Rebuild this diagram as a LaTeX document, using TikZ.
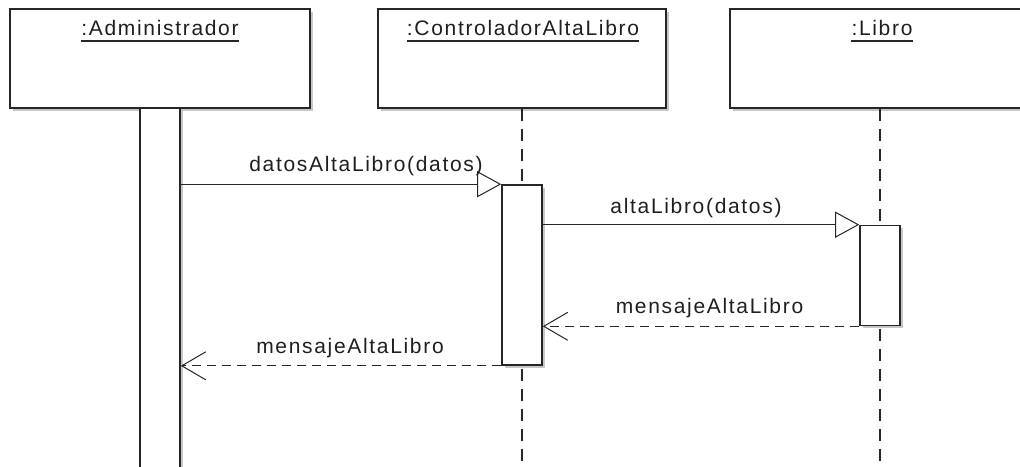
\documentclass[tikz,border=0pt]{standalone}
\usepackage{fontspec}
\setmainfont{Liberation Sans}[LetterSpace=8]
\usetikzlibrary{arrows.meta,shadows}
\begin{document}
\begin{tikzpicture}[x=1pt,y=-1pt,
  objbox/.style={draw=black!85,line width=1.6pt,fill=white,rectangle,inner sep=0pt,
    drop shadow={shadow xshift=2.5pt,shadow yshift=-2.5pt,fill=black!22,opacity=1}},
  actbox/.style={objbox},
  title/.style={anchor=base,inner sep=0pt,text=black!88,font=\fontsize{21}{25}\selectfont},
  msglabel/.style={anchor=base,inner sep=0pt,text=black!88,font=\fontsize{21}{25}\selectfont},
  lifeline/.style={draw=black!85,line width=1.6pt,dash pattern=on 12pt off 8pt},
  callmsg/.style={draw=black!85,line width=1pt,-{Triangle[fill=white,length=24pt,width=26pt,line width=1pt]}},
  retmsg/.style={draw=black!85,line width=1pt,dash pattern=on 9pt off 6pt,-{Straight Barb[length=24pt,width=28pt,line width=1pt]}},
  uline/.style={draw=black!85,line width=1.4pt}
]
\useasboundingbox (0,0) rectangle (1020,466);
\begin{scope}
\clip (0,0) rectangle (1020,466);
% object boxes
\node[objbox,minimum width=300pt,minimum height=99pt] (admin) at (160,58.5) {};
\node[objbox,minimum width=288pt,minimum height=99pt] (ctrl) at (522,58.5) {};
\node[objbox,minimum width=300pt,minimum height=99pt] (libro) at (880,58.5) {};
% titles
\node[title] (tadmin) at (160,35) {:Administrador};
\node[title] (tctrl) at (523,35) {:ControladorAltaLibro};
\node[title] (tlibro) at (882,35) {:Libro\ };
\draw[uline] ([yshift=-6pt]tadmin.base west) -- ([yshift=-6pt]tadmin.base east);
\draw[uline] ([yshift=-6pt]tctrl.base west) -- ([yshift=-6pt]tctrl.base east);
\draw[uline] ([yshift=-6pt]tlibro.base west) -- ([yshift=-6pt]tlibro.base east);
% lifelines
\coordinate (ctrlend) at (522,470);
\coordinate (libroend) at (880,470);
\draw[lifeline] (ctrl.south) -- (ctrlend);
\draw[lifeline] (libro.south) -- (libroend);
% activation bars
\node[actbox,minimum width=40pt,minimum height=372pt] (adminact) at (160,294) {};
\node[actbox,minimum width=40pt,minimum height=180pt] (ctrlact) at (522,275) {};
\node[actbox,minimum width=40pt,minimum height=100pt] (libact) at (880,275.5) {};
% messages
\draw[callmsg] (adminact.east |- ctrlact.north west) -- (ctrlact.north west);
\draw[callmsg] (ctrlact.east |- libact.north west) -- (libact.north west);
\draw[retmsg] (libact.south west) -- (ctrlact.east |- libact.south west);
\draw[retmsg] (ctrlact.south west) -- (adminact.east |- ctrlact.south west);
% labels
\node[msglabel] (l1) at (366,171) {datosAltaLibro(datos)};
\node[msglabel] (l2) at (696,213) {altaLibro(datos)};
\node[msglabel] (l3) at (709.5,313) {mensajeAltaLibro};
\node[msglabel] (l4) at (350,353) {mensajeAltaLibro};
\end{scope}
\end{tikzpicture}
\end{document}
